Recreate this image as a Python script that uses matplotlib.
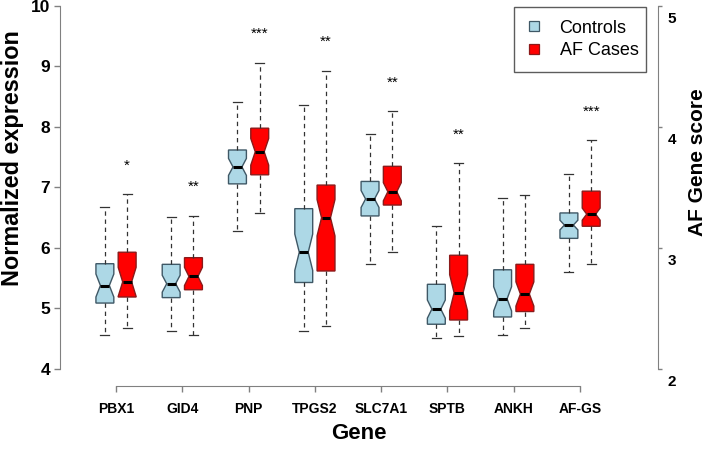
import matplotlib
matplotlib.use('Agg')
import matplotlib.pyplot as plt
import matplotlib.transforms as mtrans
from matplotlib.lines import Line2D

plt.rcParams['font.family'] = ['Liberation Sans', 'DejaVu Sans']

genes = ['PBX1', 'GID4', 'PNP', 'TPGS2', 'SLC7A1', 'SPTB', 'ANKH', 'AF-GS']

# Controls: whisker low, Q1, median, Q3, whisker high, notch half-height
ctrl_whislo = [4.56, 4.63, 6.28, 4.62, 5.73, 4.51, 4.56, 2.80]
ctrl_q1     = [5.09, 5.18, 7.06, 5.43, 6.53, 4.74, 4.86, 3.08]
ctrl_med    = [5.38, 5.41, 7.34, 5.93, 6.81, 4.99, 5.16, 3.19]
ctrl_q3     = [5.74, 5.73, 7.62, 6.65, 7.10, 5.40, 5.64, 3.29]
ctrl_whishi = [6.68, 6.51, 8.42, 8.36, 7.88, 6.36, 6.83, 3.61]
ctrl_notch  = [0.19, 0.14, 0.14, 0.30, 0.14, 0.15, 0.20, 0.04]

# AF cases
af_whislo = [4.67, 4.57, 6.58, 4.71, 5.93, 4.55, 4.67, 2.87]
af_q1     = [5.19, 5.31, 7.21, 5.62, 6.71, 4.81, 4.95, 3.18]
af_med    = [5.44, 5.53, 7.59, 6.50, 6.93, 5.26, 5.24, 3.28]
af_q3     = [5.93, 5.84, 7.98, 7.04, 7.35, 5.88, 5.73, 3.47]
af_whishi = [6.89, 6.53, 9.06, 8.93, 8.26, 7.40, 6.88, 3.89]
af_notch  = [0.24, 0.15, 0.22, 0.30, 0.15, 0.30, 0.20, 0.05]

stars = ['*', '**', '***', '**', '**', '**', '', '***']

AXCOL = '#808080'
W, H = 709, 451
fig = plt.figure(figsize=(W / 100, H / 100), dpi=100)
L, R, T, B = 60, 658, 6, 386
ax = fig.add_axes([L / W, 1 - B / H, (R - L) / W, (B - T) / H])
ax2 = ax.twinx()

ax.set_xlim(-0.845, 8.176)
ax.set_ylim(3.719, 10)
ax2.set_ylim(1.860, 5)

off = 0.168
bw = 0.27


def stats(i, wl, q1, md, q3, wh, nh):
    return dict(whislo=wl[i], q1=q1[i], med=md[i], q3=q3[i], whishi=wh[i],
                cilo=md[i] - nh[i], cihi=md[i] + nh[i], fliers=[])


def draw(axis, idx, wl, q1, md, q3, wh, nh, pos_off, fc, ec):
    st = [stats(i, wl, q1, md, q3, wh, nh) for i in idx]
    axis.bxp(st, positions=[i + pos_off for i in idx], widths=bw, shownotches=True,
             patch_artist=True, showfliers=False, capwidths=0.135,
             boxprops=dict(facecolor=fc, edgecolor=ec, linewidth=1.0),
             medianprops=dict(color='black', linewidth=2.2),
             whiskerprops=dict(color='#333333', linewidth=0.9, linestyle=(0, (3.5, 3))),
             capprops=dict(color='#333333', linewidth=0.9))


CFC, CEC = '#ADD8E6', '#3F5866'
AFC, AEC = '#FF0000', '#8B1A1A'
left_idx = list(range(7))
draw(ax, left_idx, ctrl_whislo, ctrl_q1, ctrl_med, ctrl_q3, ctrl_whishi, ctrl_notch,
     -off, CFC, CEC)
draw(ax, left_idx, af_whislo, af_q1, af_med, af_q3, af_whishi, af_notch,
     off, AFC, AEC)
draw(ax2, [7], ctrl_whislo, ctrl_q1, ctrl_med, ctrl_q3, ctrl_whishi, ctrl_notch,
     -off, CFC, CEC)
draw(ax2, [7], af_whislo, af_q1, af_med, af_q3, af_whishi, af_notch,
     off, AFC, AEC)

# significance stars
for i, s in enumerate(stars):
    if not s:
        continue
    if i == 7:
        ax2.text(i + off, af_whishi[i] + 0.205, s, ha='center', va='baseline', fontsize=11)
    else:
        ax.text(i + off, af_whishi[i] + 0.41, s, ha='center', va='baseline', fontsize=11)

# axes styling
for a in (ax, ax2):
    for sp in a.spines.values():
        sp.set_visible(False)
    a.patch.set_visible(False)

ax.spines['left'].set_visible(True)
ax.spines['left'].set_bounds(4, 10)
ax.spines['left'].set_color(AXCOL)
ax.spines['bottom'].set_visible(True)
ax.spines['bottom'].set_bounds(0, 7)
ax.spines['bottom'].set_color(AXCOL)
ax2.spines['right'].set_visible(True)
ax2.spines['right'].set_bounds(2, 5)
ax2.spines['right'].set_color(AXCOL)

ax.set_yticks(range(4, 11))
ax.set_yticklabels([str(v) for v in range(4, 11)])
ax.set_xticks(range(len(genes)))
ax.set_xticklabels(genes)
ax2.set_yticks([2, 3, 4, 5])
ax2.set_yticklabels(['2', '3', '4', '5'])

ax.tick_params(axis='y', direction='out', length=4, width=1, color=AXCOL, pad=3,
               labelsize=12.5)
ax.tick_params(axis='x', direction='out', length=4, width=1, color=AXCOL, pad=7.5,
               labelsize=10)
ax2.tick_params(axis='y', direction='out', length=3, width=1, color=AXCOL, pad=4,
                labelsize=11)
for lbl in ax.get_yticklabels() + ax.get_xticklabels() + ax2.get_yticklabels():
    lbl.set_fontweight('bold')
shift = mtrans.ScaledTranslation(0, -13 / 100, fig.dpi_scale_trans)
for lbl in ax2.get_yticklabels():
    lbl.set_va('center')
    lbl.set_transform(lbl.get_transform() + shift)

ax.set_ylabel('Normalized expression', fontsize=16.8, fontweight='bold')
ax.yaxis.set_label_coords(24 / W, 1 - 158 / H, transform=fig.transFigure)
ax.set_xlabel('Gene', fontsize=16, fontweight='bold')
ax.xaxis.set_label_coords(359 / W, 1 - 423 / H, transform=fig.transFigure)
ax2.set_ylabel('AF Gene score', fontsize=15, fontweight='bold')
ax2.yaxis.set_label_coords(688 / W, 1 - 162 / H, transform=fig.transFigure)

handles = [Line2D([], [], linestyle='none', marker='s', markersize=7,
                  markerfacecolor=CFC, markeredgecolor=CEC, markeredgewidth=0.9,
                  label='Controls'),
           Line2D([], [], linestyle='none', marker='s', markersize=7,
                  markerfacecolor=AFC, markeredgecolor=AEC, markeredgewidth=0.9,
                  label='AF Cases')]
lx0, lx1, ly0, ly1 = 514, 646, 71, 7
leg = ax.legend(handles=handles, loc='upper right',
                bbox_to_anchor=(lx0 / W, 1 - ly0 / H, (lx1 - lx0) / W, (ly0 - ly1) / H),
                bbox_transform=fig.transFigure, mode='expand',
                fontsize=13, frameon=True, fancybox=False, handlelength=0.82,
                handletextpad=1.0, borderpad=0.7, labelspacing=0.3, borderaxespad=0)
leg.get_frame().set_edgecolor('#333333')
leg.get_frame().set_linewidth(1.0)

fig.savefig('out.png', dpi=100)
